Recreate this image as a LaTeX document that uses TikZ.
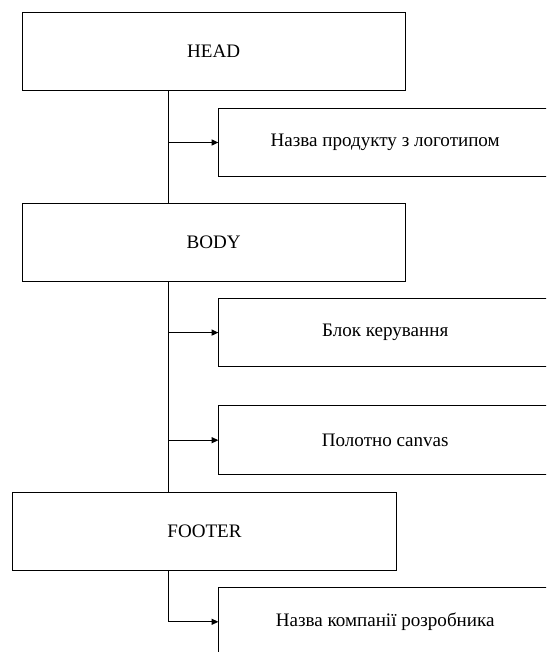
\documentclass[tikz,border=0pt]{standalone}
\usepackage{fontspec}
\setmainfont{Liberation Serif}
\usetikzlibrary{arrows.meta}
\begin{document}
\begin{tikzpicture}[x=0.75pt,y=-0.75pt,
  section/.style={draw, line width=0.8pt, rectangle, inner sep=0pt, outer sep=0pt,
    minimum width=287.5pt, minimum height=58.5pt, font=\fontsize{14.3pt}{16pt}\selectfont},
  part/.style={draw, line width=0.8pt, rectangle, inner sep=0pt, outer sep=0pt,
    minimum width=250.3pt, minimum height=51.4pt, font=\fontsize{14.3pt}{16pt}\selectfont},
  link/.style={line width=0.8pt},
  arrowlink/.style={line width=0.8pt, -{Triangle[length=5pt,width=4.5pt]}}]
\useasboundingbox (0,0) rectangle (546,652);
\clip (0,0) rectangle (546,652);

% main page sections
\node[section] (head) at (213.7,51.7) {HEAD};
\node[section] (body) at (213.7,242.2) {BODY};
\node[section] (footer) at (204.5,531.2) {FOOTER};

% contents of each section
\node[part] (logo) at (385.2,142.5) {Назва продукту з логотипом};
\node[part] (ctrl) at (385.2,332.6) {Блок керування};
\node[part] (canvas) at (385.2,440.2) {Полотно canvas};
\node[part] (company) at (385.2,621.8) {Назва компанії розробника};

% trunk line
\coordinate (trunk) at (168.3,0);
\draw[link] (head.south -| trunk) -- (body.north -| trunk);
\draw[link] (body.south -| trunk) -- (footer.north -| trunk);
\draw[link] (footer.south -| trunk) -- (trunk |- company.west);

% branches
\draw[arrowlink] (trunk |- logo.west) -- (logo.west);
\draw[arrowlink] (trunk |- ctrl.west) -- (ctrl.west);
\draw[arrowlink] (trunk |- canvas.west) -- (canvas.west);
\draw[arrowlink] (trunk |- company.west) -- (company.west);
\end{tikzpicture}
\end{document}
